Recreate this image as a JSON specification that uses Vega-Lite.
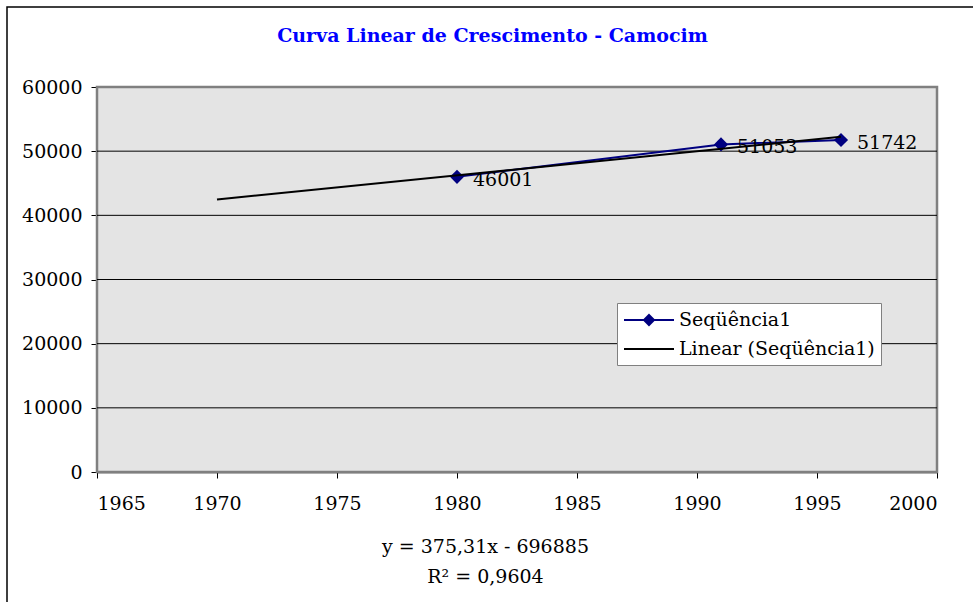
{
  "$schema": "https://vega.github.io/schema/vega-lite/v6.json",
  "width": 975,
  "height": 600,
  "autosize": {"type": "none"},
  "padding": {"left": 7, "top": 7, "right": 0, "bottom": 0},
  "background": "white",
  "title": {
    "text": "Curva Linear de Crescimento - Camocim",
    "color": "#0000FF",
    "font": "DejaVu Serif",
    "fontSize": 19,
    "fontWeight": "bold",
    "anchor": "middle",
    "frame": "group",
    "baseline": "alphabetic",
    "offset": 0,
    "dx": -2,
    "dy": 54
  },
  "data": {
    "values": [
      {"ano": 1980, "pop": 46001, "serie": "Seqüência1", "rotulo": "46001"},
      {"ano": 1991, "pop": 51053, "serie": "Seqüência1", "rotulo": "51053"},
      {"ano": 1996, "pop": 51742, "serie": "Seqüência1", "rotulo": "51742"},
      {"ano": 1970, "pop": 42476, "serie": "Linear (Seqüência1)", "rotulo": ""},
      {"ano": 1996, "pop": 52234, "serie": "Linear (Seqüência1)", "rotulo": ""}
    ]
  },
  "layer": [
    {
      "data": {"values": [{"quadro": "area"}]},
      "mark": {"type": "rect", "fill": "#e4e4e4", "stroke": "#808080", "strokeWidth": 2.5},
      "encoding": {
        "x": {"datum": 1965, "type": "quantitative"},
        "x2": {"datum": 2000},
        "y": {"datum": 0, "type": "quantitative"},
        "y2": {"datum": 60000}
      }
    },
    {
      "data": {"values": [{"grade": 10000}, {"grade": 20000}, {"grade": 30000}, {"grade": 40000}, {"grade": 50000}]},
      "mark": {"type": "rule", "color": "black", "strokeWidth": 1},
      "encoding": {
        "x": {"datum": 1965, "type": "quantitative"},
        "x2": {"datum": 2000},
        "y": {"field": "grade", "type": "quantitative"}
      }
    },
    {
      "transform": [{"filter": "datum.serie === 'Seqüência1'"}],
      "mark": {"type": "line", "color": "#000080", "strokeWidth": 2},
      "encoding": {
        "x": {"field": "ano", "type": "quantitative"},
        "y": {"field": "pop", "type": "quantitative"}
      }
    },
    {
      "transform": [{"filter": "datum.serie === 'Seqüência1'"}],
      "mark": {"type": "point", "shape": "diamond", "filled": true, "size": 200, "opacity": 1, "color": "#000080"},
      "encoding": {
        "x": {"field": "ano", "type": "quantitative"},
        "y": {"field": "pop", "type": "quantitative"}
      }
    },
    {
      "transform": [{"filter": "datum.serie === 'Seqüência1'"}],
      "mark": {"type": "point", "filled": true, "opacity": 0, "strokeWidth": 2, "size": 400},
      "encoding": {
        "x": {"field": "ano", "type": "quantitative"},
        "y": {"field": "pop", "type": "quantitative"},
        "color": {
          "field": "serie",
          "type": "nominal",
          "scale": {"domain": ["Seqüência1", "Linear (Seqüência1)"], "range": ["#000080", "#000000"]},
          "legend": {
            "orient": "none",
            "legendX": 610,
            "legendY": 296,
            "title": null,
            "fillColor": "white",
            "strokeColor": "#808080",
            "padding": 6,
            "labelFont": "DejaVu Serif",
            "labelFontSize": 19,
            "labelColor": "black",
            "labelLimit": 400,
            "symbolSize": 400,
            "symbolOpacity": 1,
            "symbolStrokeWidth": 2,
            "symbolOffset": 15,
            "rowPadding": 8,
            "labelOffset": 19
          }
        },
        "stroke": {
          "field": "serie",
          "type": "nominal",
          "scale": {"domain": ["Seqüência1", "Linear (Seqüência1)"], "range": ["#000080", "#000000"]},
          "legend": {
            "orient": "none",
            "legendX": 610,
            "legendY": 296,
            "title": null,
            "fillColor": "white",
            "strokeColor": "#808080",
            "padding": 6,
            "labelFont": "DejaVu Serif",
            "labelFontSize": 19,
            "labelColor": "black",
            "labelLimit": 400,
            "symbolSize": 400,
            "symbolOpacity": 1,
            "symbolStrokeWidth": 2,
            "symbolOffset": 15,
            "rowPadding": 8,
            "labelOffset": 19
          }
        },
        "shape": {
          "field": "serie",
          "type": "nominal",
          "scale": {"domain": ["Seqüência1", "Linear (Seqüência1)"], "range": ["M-2.5,0H2.5M0,-0.5L0.5,0L0,0.5L-0.5,0Z", "M-2.5,0H2.5"]},
          "legend": {
            "orient": "none",
            "legendX": 610,
            "legendY": 296,
            "title": null,
            "fillColor": "white",
            "strokeColor": "#808080",
            "padding": 6,
            "labelFont": "DejaVu Serif",
            "labelFontSize": 19,
            "labelColor": "black",
            "labelLimit": 400,
            "symbolSize": 400,
            "symbolOpacity": 1,
            "symbolStrokeWidth": 2,
            "symbolOffset": 15,
            "rowPadding": 8,
            "labelOffset": 19
          }
        }
      }
    },
    {
      "transform": [{"filter": "datum.serie === 'Linear (Seqüência1)'"}],
      "mark": {"type": "line", "color": "#000000", "strokeWidth": 2},
      "encoding": {
        "x": {"field": "ano", "type": "quantitative"},
        "y": {"field": "pop", "type": "quantitative"}
      }
    },
    {
      "transform": [{"filter": "datum.serie === 'Seqüência1'"}],
      "mark": {"type": "text", "align": "left", "baseline": "middle", "dx": 16, "dy": 3, "font": "DejaVu Serif", "fontSize": 19, "color": "black"},
      "encoding": {
        "x": {"field": "ano", "type": "quantitative"},
        "y": {"field": "pop", "type": "quantitative"},
        "text": {"field": "rotulo"}
      }
    }
  ],
  "resolve": {"scale": {"x": "shared", "y": "shared"}},
  "encoding": {
    "x": {
      "type": "quantitative",
      "scale": {"domain": [1965, 2000], "range": [90, 930], "nice": false, "zero": false},
      "axis": {
        "orient": "bottom",
        "offset": -135,
        "values": [1965, 1970, 1975, 1980, 1985, 1990, 1995, 2000],
        "format": "d",
        "grid": false,
        "tickSize": 6,
        "labelPadding": 16,
        "title": ["y = 375,31x - 696885", "R² = 0,9604"],
        "titleX": 478,
        "titleY": 80,
        "titleAlign": "center",
        "titleBaseline": "alphabetic",
        "titleLineHeight": 30,
        "titleFont": "DejaVu Serif",
        "titleFontSize": 19,
        "titleFontWeight": "normal",
        "titleColor": "black"
      }
    },
    "y": {
      "type": "quantitative",
      "scale": {"domain": [0, 60000], "range": [465, 80], "nice": false},
      "axis": {
        "orient": "left",
        "offset": -90,
        "values": [0, 10000, 20000, 30000, 40000, 50000, 60000],
        "format": "d",
        "grid": false,
        "tickSize": 6,
        "labelPadding": 9,
        "title": null
      }
    }
  },
  "config": {
    "view": {"fill": "white", "stroke": "black", "strokeWidth": 1.5},
    "axis": {
      "domainColor": "black",
      "domainWidth": 1.5,
      "tickColor": "black",
      "tickWidth": 1,
      "labelFont": "DejaVu Serif",
      "labelFontSize": 19,
      "labelColor": "black"
    }
  }
}
